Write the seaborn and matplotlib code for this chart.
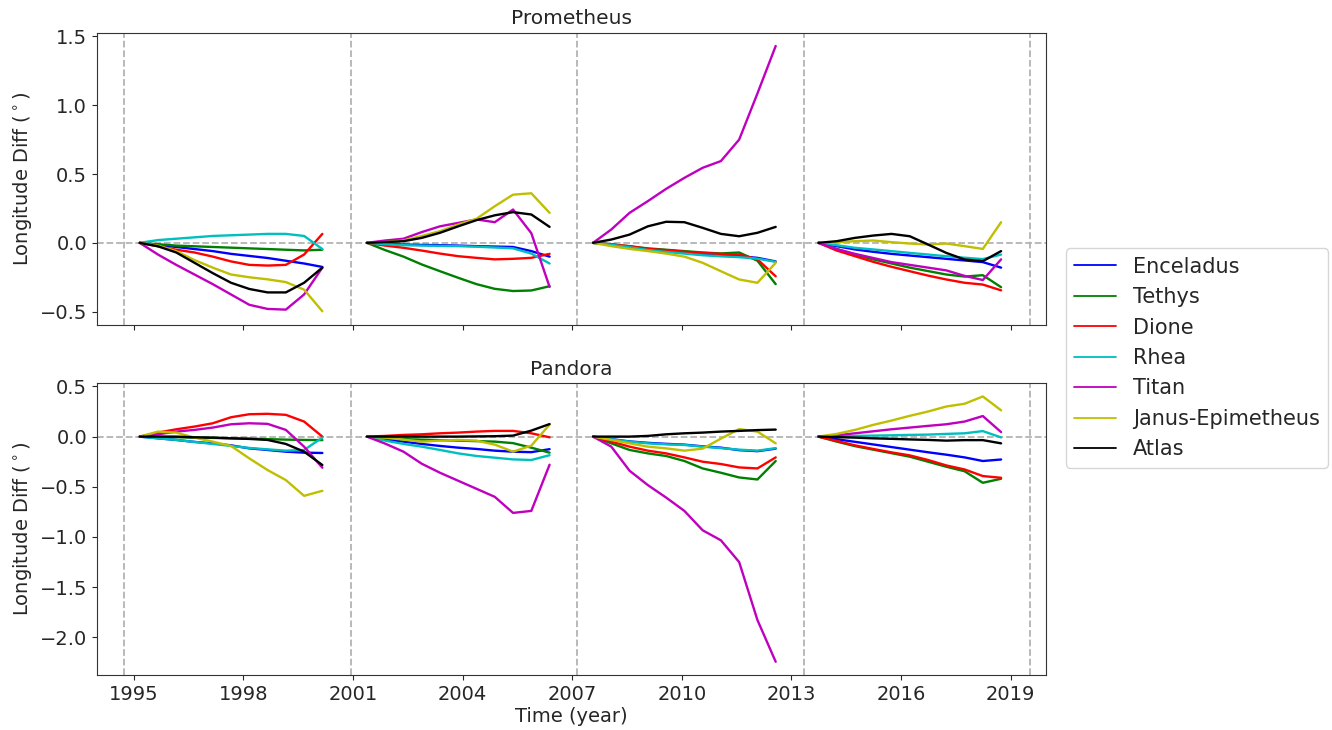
import matplotlib
matplotlib.use("Agg")
import matplotlib.pyplot as plt
import pandas as pd
import seaborn as sns

# Moons whose perturbations are tracked, with their line colours
MOONS = ["Enceladus", "Tethys", "Dione", "Rhea", "Titan", "Janus-Epimetheus", "Atlas"]
MOON_COLORS = ["b", "g", "r", "c", "m", "y", "k"]

# Each integration window starts at one of these epochs (decimal year)
SEGMENT_STARTS = [1995.16, 2001.38, 2007.57, 2013.74]
# Sample times inside a window, in years after its start
SAMPLE_OFFSETS = [0.0, 0.5, 1.0, 1.5, 2.0, 2.5, 3.0, 3.5, 4.0, 4.5, 5.0]
# Window boundaries (dashed verticals)
BOUNDARIES = [1994.74, 2000.94, 2007.14, 2013.34, 2019.53]
XTICKS = [1995, 1998, 2001, 2004, 2007, 2010, 2013, 2016, 2019]

# ---- Prometheus: longitude difference (deg), one list per window ----
prom_enceladus = [
    [0, -0.015, -0.03, -0.045, -0.06, -0.08, -0.095, -0.11, -0.13, -0.15, -0.175],
    [0, -0.007, -0.012, -0.015, -0.017, -0.02, -0.024, -0.027, -0.03, -0.06, -0.10],
    [0, -0.012, -0.03, -0.048, -0.06, -0.073, -0.085, -0.092, -0.097, -0.109, -0.135],
    [0, -0.024, -0.048, -0.065, -0.08, -0.092, -0.104, -0.116, -0.128, -0.14, -0.18],
]
prom_tethys = [
    [0, -0.01, -0.02, -0.025, -0.03, -0.035, -0.04, -0.045, -0.05, -0.055, -0.05],
    [0, -0.053, -0.10, -0.157, -0.206, -0.254, -0.30, -0.334, -0.35, -0.346, -0.315],
    [0, -0.012, -0.025, -0.04, -0.05, -0.06, -0.07, -0.077, -0.07, -0.13, -0.30],
    [0, -0.045, -0.085, -0.12, -0.15, -0.18, -0.205, -0.23, -0.245, -0.235, -0.322],
]
prom_dione = [
    [0, -0.025, -0.05, -0.07, -0.10, -0.135, -0.16, -0.165, -0.16, -0.085, 0.065],
    [0, -0.02, -0.036, -0.056, -0.078, -0.097, -0.109, -0.12, -0.116, -0.109, -0.08],
    [0, -0.012, -0.024, -0.044, -0.053, -0.065, -0.073, -0.08, -0.085, -0.12, -0.243],
    [0, -0.056, -0.097, -0.138, -0.174, -0.206, -0.238, -0.266, -0.29, -0.303, -0.345],
]
prom_rhea = [
    [0, 0.02, 0.03, 0.04, 0.05, 0.055, 0.06, 0.065, 0.065, 0.05, -0.045],
    [0, -0.01, -0.017, -0.02, -0.022, -0.024, -0.028, -0.034, -0.04, -0.078, -0.15],
    [0, -0.014, -0.032, -0.052, -0.066, -0.078, -0.09, -0.098, -0.104, -0.115, -0.138],
    [0, -0.017, -0.036, -0.048, -0.06, -0.073, -0.085, -0.097, -0.108, -0.118, -0.085],
]
prom_titan = [
    [0, -0.085, -0.16, -0.23, -0.30, -0.375, -0.45, -0.48, -0.485, -0.375, -0.18],
    [0, 0.017, 0.03, 0.078, 0.12, 0.145, 0.17, 0.15, 0.242, 0.07, -0.32],
    [0, 0.097, 0.218, 0.303, 0.392, 0.472, 0.545, 0.594, 0.75, 1.085, 1.43],
    [0, -0.045, -0.08, -0.11, -0.14, -0.16, -0.18, -0.20, -0.24, -0.27, -0.12],
]
prom_janus = [
    [0, -0.02, -0.06, -0.125, -0.18, -0.23, -0.25, -0.265, -0.285, -0.34, -0.497],
    [0, 0.005, 0.017, 0.05, 0.085, 0.133, 0.175, 0.266, 0.35, 0.36, 0.218],
    [0, -0.024, -0.044, -0.06, -0.078, -0.10, -0.145, -0.206, -0.266, -0.29, -0.145],
    [0, 0.005, 0.012, 0.017, 0.005, -0.005, -0.012, -0.005, -0.024, -0.044, 0.15],
]
prom_atlas = [
    [0, -0.025, -0.07, -0.145, -0.22, -0.29, -0.335, -0.36, -0.36, -0.29, -0.18],
    [0, 0.005, 0.012, 0.036, 0.073, 0.12, 0.165, 0.20, 0.223, 0.206, 0.116],
    [0, 0.024, 0.06, 0.12, 0.153, 0.15, 0.109, 0.065, 0.048, 0.073, 0.116],
    [0, 0.012, 0.036, 0.053, 0.065, 0.048, -0.012, -0.073, -0.121, -0.133, -0.06],
]

# ---- Pandora: longitude difference (deg), one list per window ----
pand_enceladus = [
    [0, -0.017, -0.033, -0.053, -0.067, -0.087, -0.117, -0.133, -0.15, -0.16, -0.163],
    [0, -0.027, -0.05, -0.073, -0.093, -0.11, -0.123, -0.14, -0.15, -0.155, -0.125],
    [0, -0.025, -0.048, -0.062, -0.072, -0.08, -0.097, -0.11, -0.135, -0.145, -0.12],
    [0, -0.026, -0.052, -0.078, -0.104, -0.13, -0.156, -0.18, -0.207, -0.243, -0.228],
]
pand_tethys = [
    [0, -0.003, -0.006, -0.01, -0.013, -0.017, -0.02, -0.025, -0.03, -0.033, -0.035],
    [0, -0.015, -0.025, -0.03, -0.035, -0.04, -0.045, -0.05, -0.065, -0.11, -0.16],
    [0, -0.067, -0.133, -0.167, -0.193, -0.243, -0.317, -0.36, -0.407, -0.427, -0.243],
    [0, -0.05, -0.095, -0.13, -0.165, -0.20, -0.25, -0.30, -0.345, -0.46, -0.42],
]
pand_dione = [
    [0, 0.04, 0.073, 0.10, 0.133, 0.193, 0.223, 0.227, 0.217, 0.15, 0.0],
    [0, 0.007, 0.017, 0.023, 0.033, 0.04, 0.05, 0.057, 0.057, 0.033, -0.007],
    [0, -0.05, -0.10, -0.14, -0.167, -0.207, -0.25, -0.273, -0.307, -0.317, -0.207],
    [0, -0.043, -0.087, -0.123, -0.157, -0.187, -0.233, -0.287, -0.327, -0.393, -0.41],
]
pand_rhea = [
    [0, -0.017, -0.033, -0.053, -0.073, -0.093, -0.113, -0.127, -0.14, -0.133, -0.01],
    [0, -0.04, -0.073, -0.10, -0.133, -0.167, -0.193, -0.21, -0.227, -0.233, -0.185],
    [0, -0.027, -0.05, -0.067, -0.077, -0.083, -0.10, -0.115, -0.13, -0.14, -0.115],
    [0, 0.003, 0.007, 0.01, 0.013, 0.017, 0.02, 0.027, 0.033, 0.055, -0.008],
]
pand_titan = [
    [0, 0.023, 0.05, 0.067, 0.09, 0.123, 0.133, 0.127, 0.067, -0.10, -0.31],
    [0, -0.07, -0.15, -0.27, -0.36, -0.44, -0.52, -0.60, -0.76, -0.74, -0.28],
    [0, -0.10, -0.34, -0.483, -0.607, -0.74, -0.933, -1.033, -1.25, -1.827, -2.243],
    [0, 0.013, 0.033, 0.053, 0.073, 0.09, 0.107, 0.123, 0.15, 0.205, 0.045],
]
pand_janus = [
    [0, 0.05, 0.04, -0.01, -0.05, -0.093, -0.217, -0.333, -0.433, -0.59, -0.54],
    [0, -0.01, -0.03, -0.05, -0.04, -0.033, -0.04, -0.08, -0.15, -0.09, 0.12],
    [0, -0.033, -0.067, -0.10, -0.117, -0.14, -0.12, -0.02, 0.075, 0.05, -0.067],
    [0, 0.027, 0.067, 0.117, 0.16, 0.207, 0.25, 0.30, 0.327, 0.40, 0.262],
]
pand_atlas = [
    [0, 0, 0, -0.007, -0.01, -0.017, -0.023, -0.033, -0.073, -0.15, -0.283],
    [0, 0, 0, 0, 0, 0, 0.002, 0.004, 0.01, 0.06, 0.125],
    [0, 0, 0, 0.007, 0.023, 0.033, 0.04, 0.05, 0.057, 0.065, 0.07],
    [0, -0.005, -0.01, -0.017, -0.022, -0.028, -0.033, -0.04, -0.035, -0.035, -0.067],
]

PANELS = [
    ("Prometheus", [prom_enceladus, prom_tethys, prom_dione, prom_rhea,
                    prom_titan, prom_janus, prom_atlas]),
    ("Pandora", [pand_enceladus, pand_tethys, pand_dione, pand_rhea,
                 pand_titan, pand_janus, pand_atlas]),
]


def to_frame(series_by_moon):
    rows = []
    for moon, segments in zip(MOONS, series_by_moon):
        for k, (start, values) in enumerate(zip(SEGMENT_STARTS, segments)):
            for off, v in zip(SAMPLE_OFFSETS, values):
                rows.append((moon, k, start + off, v))
    return pd.DataFrame(rows, columns=["moon", "segment", "year", "diff"])


sns.set_style("ticks")
plt.rcParams["font.family"] = ["DejaVu Sans"]

fig, axes = plt.subplots(2, 1, figsize=(13.32, 7.30), dpi=100, sharex=True)
fig.subplots_adjust(left=0.0728, right=0.7853, top=0.9552, bottom=0.0753, hspace=0.201)

palette = dict(zip(MOONS, MOON_COLORS))
guide_color = "#b3b3b3"

for ax, (name, series) in zip(axes, PANELS):
    df = to_frame(series)
    sns.lineplot(data=df, x="year", y="diff", hue="moon", hue_order=MOONS,
                 palette=palette, units="segment", estimator=None,
                 linewidth=1.7, ax=ax, legend=True)
    ax.axhline(0, ls="--", color=guide_color, lw=1.3, zorder=1.5)
    for b in BOUNDARIES:
        ax.axvline(b, ls="--", color=guide_color, lw=1.3, zorder=1.5)
    ax.set_title(name, fontsize=14.5)
    ax.set_ylabel(r"Longitude Diff ($^\circ$)", fontsize=14)
    ax.set_xlabel("")
    ax.tick_params(labelsize=14)
    for sp in ax.spines.values():
        sp.set_visible(True)
        sp.set_color("#333333")

handles, labels = axes[0].get_legend_handles_labels()
for ax in axes:
    ax.get_legend().remove()

axes[1].set_xlim(1993.99, 2019.97)
axes[1].set_xticks(XTICKS)
axes[1].set_xlabel("Time (year)", fontsize=14, labelpad=2)

leg = fig.legend(handles, labels, loc="center left", bbox_to_anchor=(0.8003, 0.5096),
                 borderaxespad=0, fontsize=15, frameon=True)
for h in leg.legend_handles:
    h.set_linewidth(1.3)

fig.savefig("out.png", dpi=100)
